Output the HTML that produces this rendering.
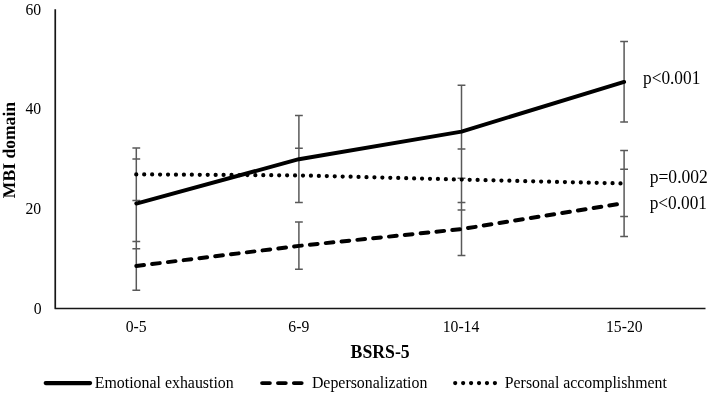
<!DOCTYPE html>
<html>
<head>
<meta charset="utf-8">
<title>MBI domain by BSRS-5</title>
<style>
  html, body { margin: 0; padding: 0; background: #ffffff; }
  body { width: 709px; height: 393px; overflow: hidden; }
  svg { display: block; will-change: transform; }
  text { font-family: "Liberation Serif", serif; fill: #000000; }
  .tick { font-size: 15.7px; }
  .ttl { font-size: 18.2px; font-weight: bold; }
  .pv { font-size: 17.8px; }
  .eb { stroke: #595959; stroke-width: 1.5; fill: none; }
  .ax { stroke: #161616; stroke-width: 1.7; fill: none; stroke-linejoin: round; }
  .ln { stroke: #000000; stroke-width: 3.95; fill: none; stroke-linecap: round; stroke-linejoin: round; }
</style>
</head>
<body>
<svg width="709" height="393" viewBox="0 0 709 393">
  <rect x="0" y="0" width="709" height="393" fill="#ffffff"/>

  <!-- error bars -->
  <g class="eb">
    <!-- x = 136.4 -->
    <path d="M136.3 148.1V290.2"/>
    <path d="M132.4 148.1h7.8M132.4 159.1h7.8M132.4 200.5h7.8M132.4 241.6h7.8M132.4 248.7h7.8M132.4 290.2h7.8"/>
    <!-- x = 298.9 -->
    <path d="M298.9 115.5V202.5M298.9 222.1V269.3"/>
    <path d="M295 115.5h7.8M295 148.2h7.8M295 202.5h7.8M295 222.1h7.8M295 269.3h7.8"/>
    <!-- x = 461.5 -->
    <path d="M461.5 85.2V255.4"/>
    <path d="M457.6 85.2h7.8M457.6 148.9h7.8M457.6 178.2h7.8M457.6 202.4h7.8M457.6 209.9h7.8M457.6 255.4h7.8"/>
    <!-- x = 624.1 -->
    <path d="M624.1 41.6V122M624.1 150.6V236.6"/>
    <path d="M620.2 41.6h7.8M620.2 122h7.8M620.2 150.6h7.8M620.2 169.2h7.8M620.2 216.4h7.8M620.2 236.6h7.8"/>
  </g>

  <!-- series -->
  <path class="ln" d="M136.3 203.6L298.9 159.2L461.5 131.6L624.1 81.9"/>
  <path class="ln" stroke-dasharray="7.75 8.15" d="M136.3 266L298.9 245.9L461.5 229.1L624.1 203.1"/>
  <path class="ln" style="stroke-width:4.25" stroke-dasharray="0 7.94" d="M136.25 174.4L298.9 175.4L461.5 179.6L624.1 183.5"/>

  <!-- axes -->
  <path class="ax" d="M55.25 9.2V308.5H705.5"/>

  <!-- y tick labels -->
  <g class="tick" text-anchor="end">
    <text x="41.2" y="14.8">60</text>
    <text x="41.2" y="114.4">40</text>
    <text x="41.2" y="214.2">20</text>
    <text x="41.5" y="313.9">0</text>
  </g>

  <!-- x tick labels -->
  <g class="tick" text-anchor="middle">
    <text x="136.2" y="332">0-5</text>
    <text x="298.8" y="332">6-9</text>
    <text x="461.0" y="332">10-14</text>
    <text x="624.3" y="332">15-20</text>
  </g>

  <!-- axis titles -->
  <text class="ttl" text-anchor="middle" x="380.15" y="357.6" textLength="59.2" lengthAdjust="spacingAndGlyphs">BSRS-5</text>
  <text class="ttl" style="font-size:17.9px;text-rendering:geometricPrecision" text-anchor="middle" transform="translate(14.9 150.05) rotate(-90)" textLength="96.2" lengthAdjust="spacingAndGlyphs">MBI domain</text>

  <!-- p values -->
  <text class="pv" x="643" y="84.3" textLength="57.3" lengthAdjust="spacingAndGlyphs">p&lt;0.001</text>
  <text class="pv" x="649.7" y="183" textLength="58.2" lengthAdjust="spacingAndGlyphs">p=0.002</text>
  <text class="pv" x="649.7" y="209" textLength="57.3" lengthAdjust="spacingAndGlyphs">p&lt;0.001</text>

  <!-- legend -->
  <path class="ln" style="stroke-width:4.15" d="M45.7 383.05H90.1"/>
  <text class="tick" x="94.8" y="388" textLength="138.9" lengthAdjust="spacingAndGlyphs">Emotional exhaustion</text>
  <path class="ln" stroke-dasharray="7.75 8.15" d="M262.1 383.1H305"/>
  <text class="tick" x="311.9" y="388" textLength="115.5" lengthAdjust="spacingAndGlyphs">Depersonalization</text>
  <path class="ln" style="stroke-width:4.25" stroke-dasharray="0 7.94" d="M455.2 383.1H498"/>
  <text class="tick" x="504.8" y="388" textLength="162.1" lengthAdjust="spacingAndGlyphs">Personal accomplishment</text>
</svg>
</body>
</html>
